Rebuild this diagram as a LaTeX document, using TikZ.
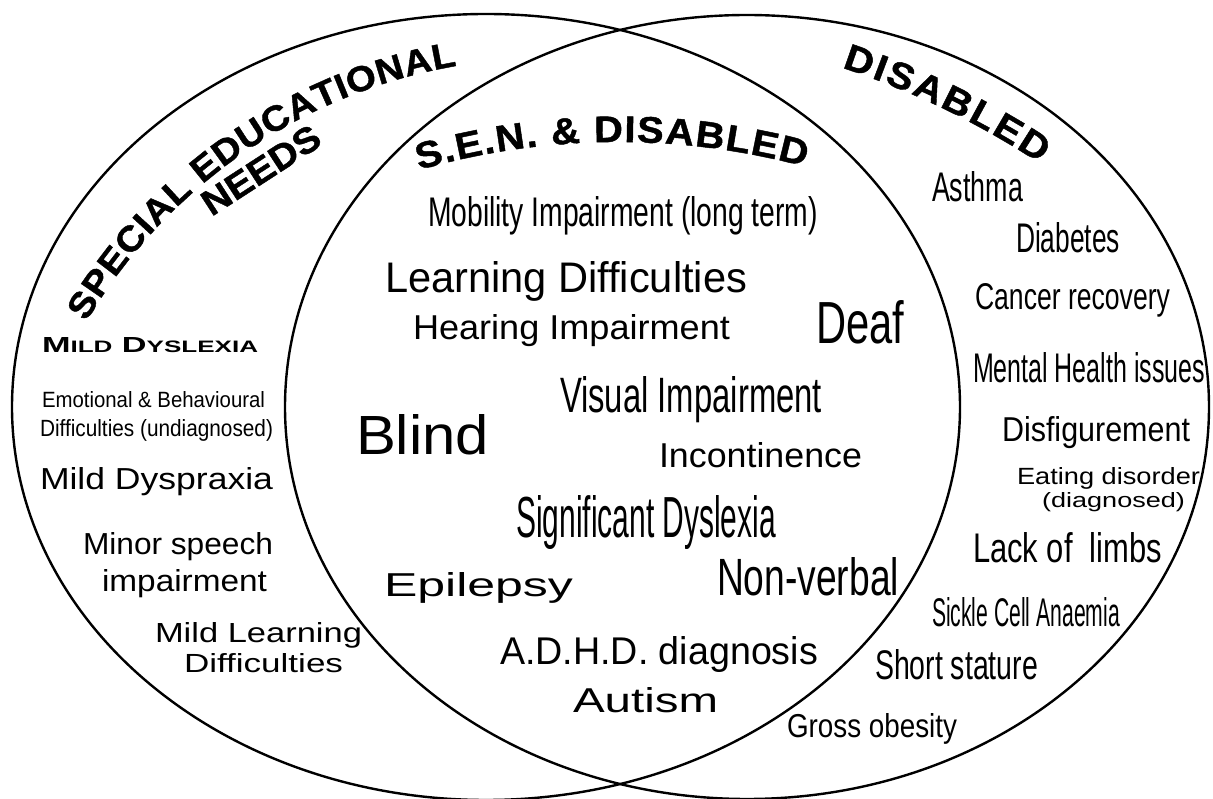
\documentclass[tikz,border=0pt]{standalone}
\usepackage{fontspec}
\setmainfont{Liberation Sans}
\newfontfamily\headfam[FakeBold=1.2,FakeStretch=1.08]{Liberation Sans}
\usepackage{graphicx}
\usetikzlibrary{decorations.text}
\newcommand{\headfontS}{\headfam\fontsize{35.5}{40}\selectfont\bfseries}
\newcommand{\headfont}{\headfam\fontsize{36}{40}\selectfont\bfseries}
\newcommand{\headfontL}{\headfam\fontsize{37}{42}\selectfont\bfseries}
\newcommand{\fitbox}[3]{\resizebox{#1pt}{#2pt}{#3}}
\newcommand{\smc}[1]{{\fontsize{7.6}{9}\selectfont #1}}
\tikzset{
  venn/.style={draw=black, line width=2.4pt},
  lab/.style={anchor=base west, inner sep=0pt, outer sep=0pt},
  headtext/.style={decorate, decoration={text along path, text align={fit to path}}}
}
\begin{document}
\begin{tikzpicture}[x=1pt,y=1pt]
\useasboundingbox (0,0) rectangle (1213,798);
\fill[white] (0,0) rectangle (1213,798);
% circles
\draw[venn] (486,391) ellipse [x radius=474, y radius=393];
\draw[venn] (747,391) ellipse [x radius=462, y radius=392];
% headings
\path[headtext, decoration={text={|\headfontS|SPECIAL EDUCATIONAL}}]
  ([shift={(548,204)}]149.5:536) arc[start angle=149.5, end angle=99.8, radius=536];
\node[rotate=33, inner sep=0pt, font=\headfont] (needs) at (261,628) {NEEDS};
\path[headtext, decoration={text={|\headfontL|S.E.N. {\&} DISABLED}}]
  ([shift={(618,-66)}]106:722) arc[start angle=106, end angle=75, radius=722];
\path[headtext, decoration={text={|\headfontL|DISABLED}}]
  ([shift={(582,-60)}]71.8:832) arc[start angle=71.8, end angle=56.6, radius=832];
% S.E.N. & Disabled
\node[lab] (mob) at (428,571) {\fitbox{390}{30}{Mobility Impairment (long term)}};
\node[lab] (learn) at (385,505) {\fitbox{362}{31}{Learning Difficulties}};
\node[lab] (hear) at (413,458) {\fitbox{317}{25}{Hearing Impairment}};
\node[lab] (deaf) at (816,454) {\fitbox{88}{43}{Deaf}};
\node[lab] (visual) at (560,385) {\fitbox{262}{36}{Visual Impairment}};
\node[lab] (blind) at (356,343) {\fitbox{133}{40}{Blind}};
\node[lab] (incont) at (659,330) {\fitbox{203}{25}{Incontinence}};
\node[lab] (sigdys) at (516,260) {\fitbox{260}{42}{Significant Dyslexia}};
\node[lab] (epil) at (384,201) {\fitbox{189}{24}{Epilepsy}};
\node[lab] (nonverb) at (717,202) {\fitbox{182}{38}{Non-verbal}};
\node[lab] (adhd) at (500,133) {\fitbox{318}{28}{A.D.H.D. diagnosis}};
\node[lab] (autism) at (573,85) {\fitbox{145}{25}{Autism}};
% Special educational needs
\node[lab] (mdys) at (42,445) {\fitbox{216}{15}{\bfseries M\smc{ILD} D\smc{YSLEXIA}}};
\node[lab] (emo1) at (42,390) {\fitbox{223}{16}{Emotional \& Behavioural}};
\node[lab] (emo2) at (40,361) {\fitbox{233}{17}{Difficulties (undiagnosed)}};
\node[lab] (dyspr) at (40,308) {\fitbox{233}{22}{Mild Dyspraxia}};
\node[lab] (minor1) at (83,243) {\fitbox{190}{22}{Minor speech}};
\node[lab] (minor2) at (102,206) {\fitbox{165}{22}{impairment}};
\node[lab] (mld1) at (155,155) {\fitbox{207}{20}{Mild Learning}};
\node[lab] (mld2) at (184,125) {\fitbox{159}{19}{Difficulties}};
% Disabled
\node[lab] (asthma) at (932,596) {\fitbox{91}{30}{Asthma}};
\node[lab] (diab) at (1016,545) {\fitbox{104}{30}{Diabetes}};
\node[lab] (cancer) at (975,488) {\fitbox{195}{26}{Cancer recovery}};
\node[lab] (mental) at (973,415) {\fitbox{232}{30}{Mental Health issues}};
\node[lab] (disfig) at (1002,356) {\fitbox{188}{25}{Disfigurement}};
\node[lab] (eat1) at (1017,313) {\fitbox{183}{17}{Eating disorder}};
\node[lab] (eat2) at (1042,290) {\fitbox{143}{15}{(diagnosed)}};
\node[lab] (lack) at (973,235) {\fitbox{189}{30}{Lack of\ \ limbs}};
\node[lab] (sickle) at (932,171) {\fitbox{188}{29}{Sickle Cell Anaemia}};
\node[lab] (short) at (875,118) {\fitbox{163}{30}{Short stature}};
\node[lab] (gross) at (787,61) {\fitbox{170}{24}{Gross obesity}};
\end{tikzpicture}
\end{document}
